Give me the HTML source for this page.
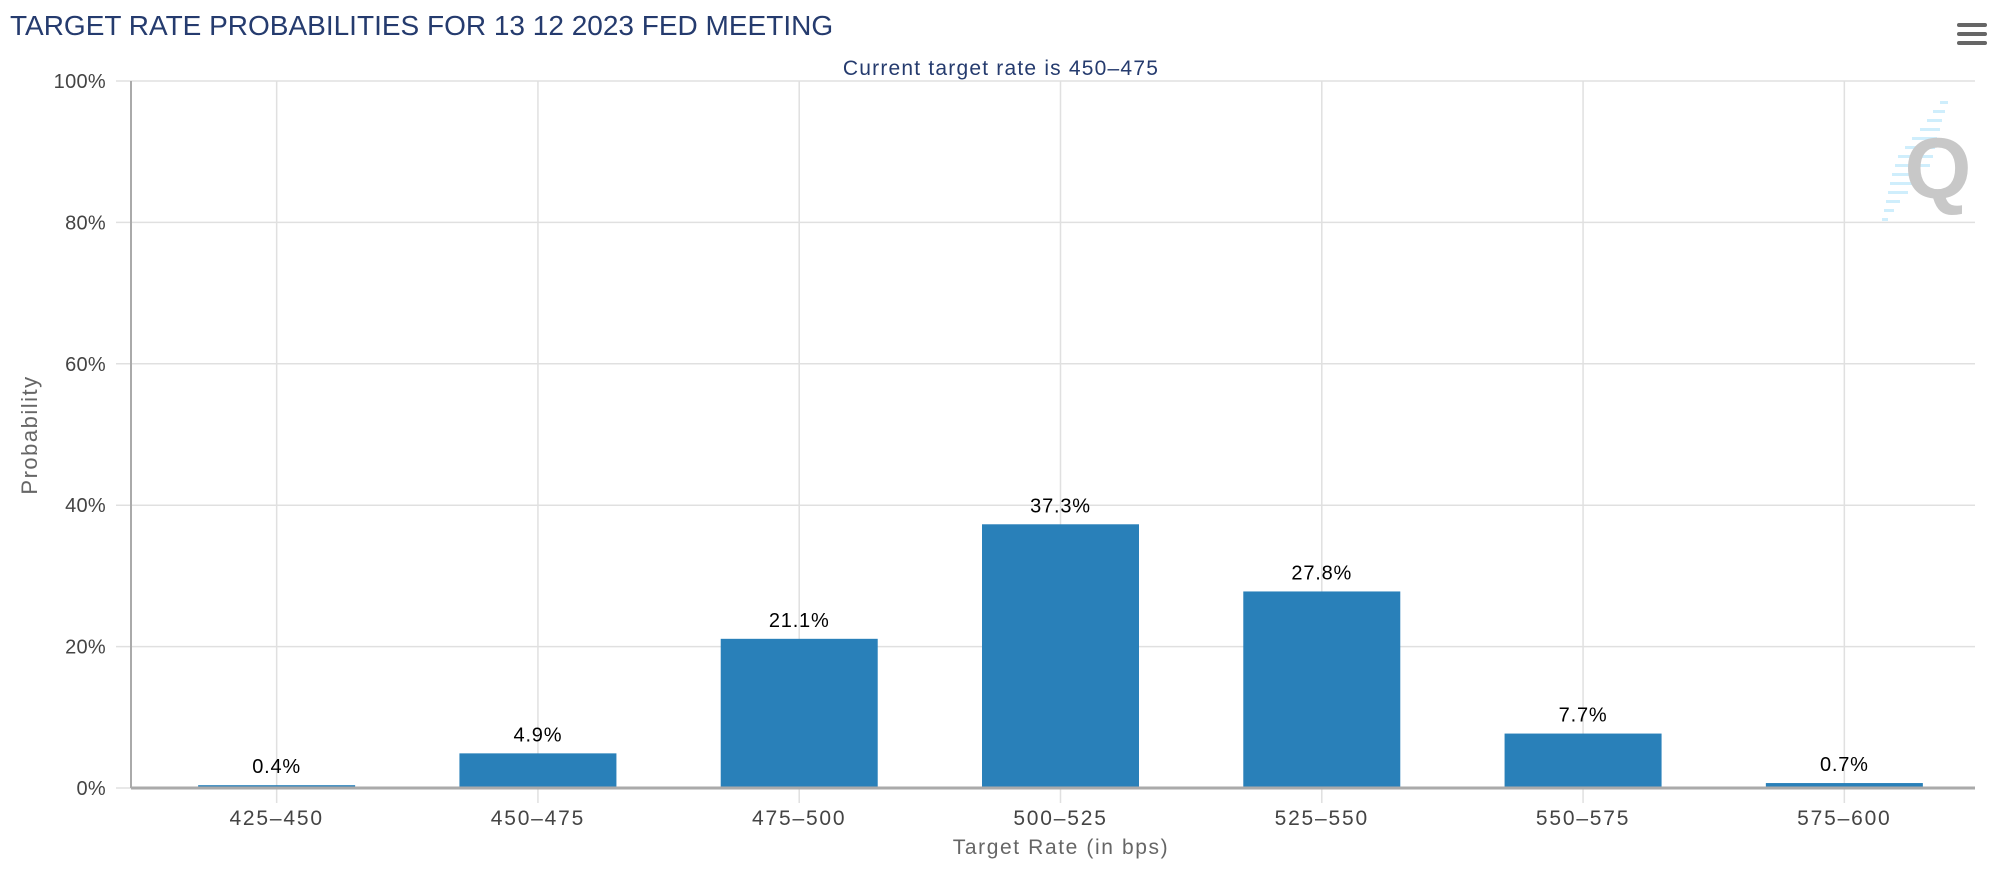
<!DOCTYPE html>
<html><head><meta charset="utf-8"><style>
body{margin:0;background:#fff;}
svg{display:block;font-family:"Liberation Sans",sans-serif;}
</style></head><body>
<svg id="chart" width="2000" height="875" viewBox="0 0 2000 875">
<text x="10" y="35" font-size="28" fill="#253b6e">TARGET RATE PROBABILITIES FOR 13 12 2023 FED MEETING</text>
<text x="1001" y="75" font-size="21" fill="#253b6e" text-anchor="middle" letter-spacing="1.2">Current target rate is 450–475</text>
<g>
<rect x="1957" y="23" width="30" height="4" rx="2" fill="#666"/>
<rect x="1957" y="32" width="30" height="4" rx="2" fill="#666"/>
<rect x="1957" y="41" width="30" height="4" rx="2" fill="#666"/>
</g>
<g>
<g fill="#cfeefc">
<rect x="1940" y="101" width="8" height="3"/><rect x="1933" y="110" width="12" height="3"/><rect x="1927" y="119" width="15" height="3"/><rect x="1920" y="128" width="20" height="3"/><rect x="1912" y="137" width="25" height="3"/><rect x="1905" y="146" width="30" height="3"/><rect x="1898" y="155" width="35" height="3"/><rect x="1895" y="164" width="35" height="3"/><rect x="1892" y="173" width="28" height="3"/><rect x="1890" y="182" width="25" height="3"/><rect x="1888" y="191" width="20" height="3"/><rect x="1886" y="200" width="14" height="3"/><rect x="1884" y="209" width="10" height="3"/><rect x="1882" y="218" width="6" height="3"/>
</g>
<text x="1938" y="198" font-size="86" font-weight="bold" fill="#c8c8c8" text-anchor="middle">Q</text>
</g>
<g id="grid"></g>
<g id="bars"></g>
<g id="labels"></g>
<text transform="translate(37,435) rotate(-90)" font-size="22" fill="#666" text-anchor="middle" letter-spacing="1.5">Probability</text>
<text x="1061" y="854" font-size="21" fill="#666" text-anchor="middle" letter-spacing="1.6">Target Rate (in bps)</text>
</svg>
<script>
const categories = ["425-450","450-475","475-500","500-525","525-550","550-575","575-600"];
const values = [0.4, 4.9, 21.1, 37.3, 27.8, 7.7, 0.7];
const yTicks = [0, 20, 40, 60, 80, 100];
const NS = "http://www.w3.org/2000/svg";
const L = 146, R = 1975, T = 81, B = 788;
const band = (R - L) / categories.length;
const x = i => L + band * (i + 0.5);
const y = v => B - (v / 100) * (B - T);
function mk(tag, attrs, parent, txt) {
  const e = document.createElementNS(NS, tag);
  for (const k in attrs) e.setAttribute(k, attrs[k]);
  if (txt !== undefined) e.textContent = txt;
  document.getElementById(parent).appendChild(e);
  return e;
}
yTicks.forEach(t => {
  const l = mk("line", {x1: 116, x2: R, y1: y(t), y2: y(t), stroke: "#e0e0e0", "stroke-width": 1.5}, "grid");
  
  
  const tx = mk("text", {x: 106, y: y(t) + 7, "font-size": 20, fill: "#444", "text-anchor": "end", "letter-spacing": 0.3}, "grid", t + "%");
  
  
});
categories.forEach((c, i) => {
  const l = mk("line", {x1: x(i), x2: x(i), y1: T, y2: B + 15, stroke: "#e0e0e0", "stroke-width": 1.5}, "grid");
  
  
  const tx = mk("text", {x: x(i), y: 825, "font-size": 21, fill: "#444", "text-anchor": "middle", "letter-spacing": 1.8}, "labels", c.replace("-", "–"));
  
  
});
const ax = mk("line", {x1: 131, x2: 131, y1: T, y2: B, stroke: "#aaa", "stroke-width": 2}, "grid");


const bw = 157;
values.forEach((v, i) => {
  const r = mk("rect", {x: x(i) - bw / 2, y: y(v), width: bw, height: B - y(v), fill: "#2980b9"}, "bars");
  
  
  const t = mk("text", {x: x(i), y: y(v) - 12, "font-size": 20, fill: "#000", "text-anchor": "middle", "letter-spacing": 0.8}, "labels", v.toFixed(1) + "%");
  
  
});
const base = mk("line", {x1: 131, x2: R, y1: B, y2: B, stroke: "#aaa", "stroke-width": 3}, "bars");


</script>
</body></html>
